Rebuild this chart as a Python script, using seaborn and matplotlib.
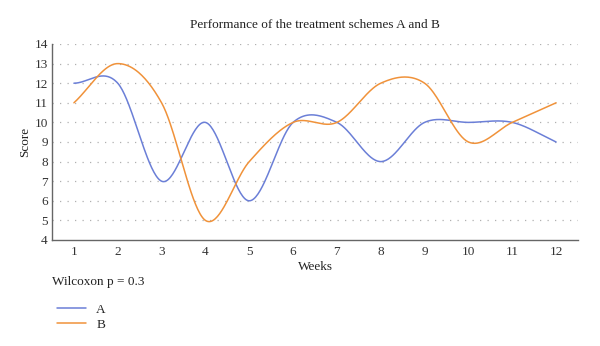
import numpy as np
import pandas as pd
import matplotlib
matplotlib.use("Agg")
import matplotlib.pyplot as plt
import seaborn as sns
from matplotlib.lines import Line2D

weeks = [1, 2, 3, 4, 5, 6, 7, 8, 9, 10, 11, 12]
scores_a = [12, 12, 7, 10, 6, 10, 10, 8, 10, 10, 10, 9]
scores_b = [11, 13, 11, 5, 8, 10, 10, 12, 12, 9, 10, 11]
y_ticks = [4, 5, 6, 7, 8, 9, 10, 11, 12, 13, 14]
title = "Performance of the treatment schemes A and B"
note = "Wilcoxon p = 0.3"

COL_A = "#6b7fd7"
COL_B = "#f0923a"


def catmull_rom(x, y, n=40):
    x = np.asarray(x, float)
    y = np.asarray(y, float)
    m = np.zeros_like(y)
    m[1:-1] = (y[2:] - y[:-2]) / (x[2:] - x[:-2])
    m[0] = (y[1] - y[0]) / (x[1] - x[0])
    m[-1] = (y[-1] - y[-2]) / (x[-1] - x[-2])
    xs, ys = [], []
    for i in range(len(x) - 1):
        h = x[i + 1] - x[i]
        t = np.linspace(0, 1, n, endpoint=(i == len(x) - 2))
        h00 = 2 * t**3 - 3 * t**2 + 1
        h10 = t**3 - 2 * t**2 + t
        h01 = -2 * t**3 + 3 * t**2
        h11 = t**3 - t**2
        xs.append(x[i] + t * h)
        ys.append(h00 * y[i] + h10 * h * m[i] + h01 * y[i + 1] + h11 * h * m[i + 1])
    return np.concatenate(xs), np.concatenate(ys)


frames = []
for name, vals in (("A", scores_a), ("B", scores_b)):
    xs, ys = catmull_rom(weeks, vals)
    frames.append(pd.DataFrame({"Weeks": xs, "Score": ys, "Scheme": name}))
df = pd.concat(frames, ignore_index=True)

sns.set_theme(style="white")
plt.rcParams["font.family"] = ["Liberation Serif", "DejaVu Serif"]

fig = plt.figure(figsize=(6, 3.46), dpi=100)
ax = fig.add_axes([52 / 600, 1 - 240 / 346, 526 / 600, 196 / 346])

sns.lineplot(data=df, x="Weeks", y="Score", hue="Scheme",
             palette={"A": COL_A, "B": COL_B}, sort=False, estimator=None,
             linewidth=1.1, ax=ax, legend=False)

ax.set_xlim(0.5, 12.5)
ax.set_ylim(4, 14)
ax.set_xticks(weeks)
ax.set_xticklabels([str(w) for w in weeks])
ax.set_yticks(y_ticks)
ax.set_yticklabels([str(v) for v in y_ticks])
for v in y_ticks[1:]:
    ax.axhline(v, color="#b0b0b0", linestyle=(0, (1, 5)), linewidth=0.9, zorder=0)
ax.tick_params(axis="both", length=0, labelsize=9.5, colors="#333333")
ax.tick_params(axis="x", pad=4)
ax.tick_params(axis="y", pad=3)
for s in ("top", "right"):
    ax.spines[s].set_visible(False)
for s in ("left", "bottom"):
    ax.spines[s].set_color("#666666")
    ax.spines[s].set_linewidth(1.0)

ax.set_xlabel("Weeks", fontsize=9.5, color="#222222")
ax.set_ylabel("Score", fontsize=9.5, color="#222222")
ax.xaxis.set_label_coords(0.5, (240 - 267) / 196)
ax.xaxis.label.set_va("center")
ax.yaxis.set_label_coords((25 - 52) / 526, 0.5)
ax.yaxis.label.set_va("center")
fig.text(0.525, 1 - 25 / 346, title, ha="center", va="center",
         fontsize=9.5, color="#222222")
fig.text(52 / 600, 1 - 282 / 346, note, ha="left", va="center",
         fontsize=9.5, color="#222222")

handles = [Line2D([], [], color=COL_A, lw=1.1), Line2D([], [], color=COL_B, lw=1.1)]
fig.legend(handles, ["A", "B"], loc="upper left",
           bbox_to_anchor=(52 / 600 - 0.012, 1 - 292 / 346), frameon=False,
           fontsize=9.5, handlelength=2.2, handletextpad=0.8, labelspacing=0.2)

fig.savefig("out.png", dpi=100)
